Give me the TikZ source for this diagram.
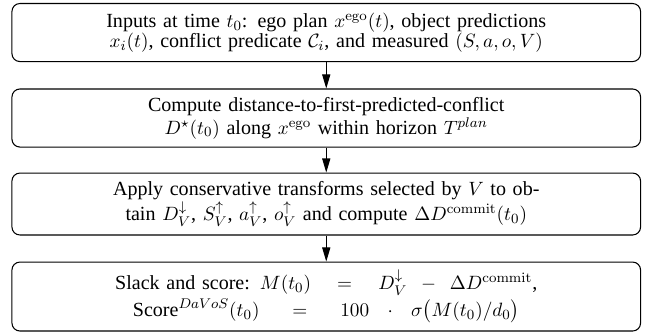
\documentclass[tikz,border=0pt]{standalone}
\usepackage{amsmath}
\usepackage[no-math]{fontspec}
\setmainfont{Liberation Serif}
\usetikzlibrary{arrows.meta}
\begin{document}
\begin{tikzpicture}[x=1pt,y=1pt,
  stepbox/.style={draw, rounded corners=4.5pt, minimum width=357.4pt, text width=350pt, align=center, inner sep=2pt, line width=0.6pt, font=\fontsize{11.4}{11.6}\selectfont},
  flow/.style={-{Triangle[length=8pt,width=4.6pt]}, line width=0.6pt}]
\useasboundingbox (0,0) rectangle (369,-190.3);
\node[stepbox, minimum height=33pt] (a) at (185.5,-18.5) {Inputs at time $t_0$: ego plan $x^{\mathrm{ego}}(t)$, object predictions\\ $x_i(t)$, conflict predicate $\mathcal{C}_i$, and measured $(S,a,o,V)$};
\node[stepbox, minimum height=33pt] (b) at (185.5,-67.1) {Compute distance-to-first-predicted-conflict\\ $D^{\star}(t_0)$ along $x^{\mathrm{ego}}$ within horizon $T^{plan}$};
\node[stepbox, minimum height=35.2pt] (c) at (185.5,-116) {Apply conservative transforms selected by $V$ to ob-\\ tain $D_V^{\downarrow}$, $S_V^{\uparrow}$, $a_V^{\uparrow}$, $o_V^{\uparrow}$ and compute $\Delta D^{\mathrm{commit}}(t_0)$};
\node[stepbox, minimum height=39.2pt] (d) at (185.5,-168.6) {Slack and score: $M(t_0)\hspace{4.5pt}=\hspace{4.5pt}D_V^{\downarrow}\hspace{2.5pt}-\hspace{2.5pt}\Delta D^{\mathrm{commit}}$,\\[1pt] $\text{Score}^{DaVoS}(t_0)\hspace{7pt}=\hspace{7pt}100\hspace{4.5pt}\cdot\hspace{4.5pt}\sigma\bigl(M(t_0)/d_0\bigr)$};
\draw[flow] (a) -- (b);
\draw[flow] (b) -- (c);
\draw[flow] (c) -- (d);
\end{tikzpicture}
\end{document}
